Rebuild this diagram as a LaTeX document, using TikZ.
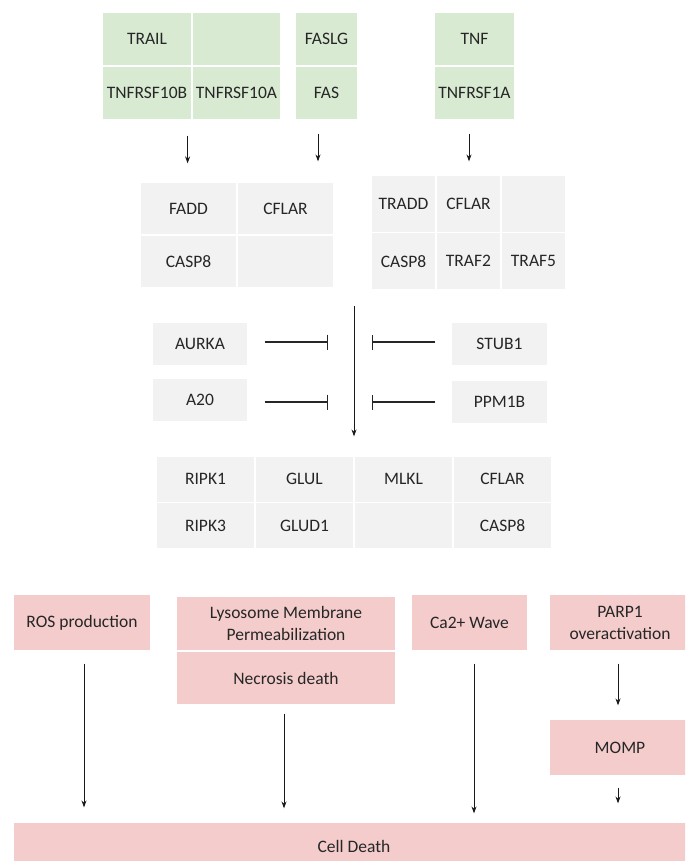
\documentclass[tikz,border=0pt]{standalone}
\usepackage{fontspec}
\setmainfont{Carlito}
\usetikzlibrary{arrows.meta}
\definecolor{gcol}{HTML}{D9EAD3}
\definecolor{grcol}{HTML}{F2F2F2}
\definecolor{pcol}{HTML}{F4CCCC}
\definecolor{tcol}{HTML}{262626}
\begin{document}
\begin{tikzpicture}[x=1pt,y=-1pt,
  cell/.style={draw=white, line width=1.2pt, inner sep=0pt, text=tcol,
    font=\fontsize{17.5}{22}\selectfont, align=center},
  gcell/.style={cell, fill=gcol},
  ycell/.style={cell, fill=grcol},
  pcell/.style={cell, fill=pcol},
  arr/.style={-{Stealth[length=7pt,width=5pt]}, line width=1pt, draw=black!90},
  inh/.style={-{Bar[width=15pt, line width=1.3pt]}, line width=1.1pt, draw=black!85}]
\useasboundingbox (0,0) rectangle (685,861);
\clip (0,0) rectangle (685,861);
\fill[white] (0,0) rectangle (685,861);

% green receptor blocks
\node[gcell, minimum width=90pt, minimum height=54pt] (trail) at (147,39) {TRAIL};
\node[gcell, minimum width=89pt, minimum height=54pt] (tgap) at (236.5,39) {};
\node[gcell, minimum width=90pt, minimum height=54pt] (r10b) at (147,93) {TNFRSF10B};
\node[gcell, minimum width=89pt, minimum height=54pt] (r10a) at (236.5,93) {TNFRSF10A};
\node[gcell, minimum width=63pt, minimum height=54pt] (faslg) at (326.5,39) {FASLG};
\node[gcell, minimum width=63pt, minimum height=54pt] (fas) at (326.5,93) {FAS};
\node[gcell, minimum width=81pt, minimum height=54pt] (tnf) at (474.5,39) {TNF};
\node[gcell, minimum width=81pt, minimum height=54pt] (r1a) at (474.5,93) {TNFRSF1A};

% gray complex 1
\node[ycell, minimum width=97pt, minimum height=53pt] (fadd) at (188.5,208.5) {FADD};
\node[ycell, minimum width=97pt, minimum height=53pt] (cflara) at (285.5,208.5) {CFLAR};
\node[ycell, minimum width=97pt, minimum height=53pt] (casp8a) at (188.5,261.5) {CASP8};
\node[ycell, minimum width=97pt, minimum height=53pt] (gapa) at (285.5,261.5) {};

% gray complex 2
\node[ycell, minimum width=65pt, minimum height=57.5pt] (tradd) at (403.5,203.75) {TRADD};
\node[ycell, minimum width=65pt, minimum height=57.5pt] (cflarb) at (468.5,203.75) {CFLAR};
\node[ycell, minimum width=65pt, minimum height=57.5pt] (gapb) at (533.5,203.75) {};
\node[ycell, minimum width=65pt, minimum height=57.5pt] (casp8b) at (403.5,261.25) {CASP8};
\node[ycell, minimum width=65pt, minimum height=57.5pt] (traf2) at (468.5,261.25) {TRAF2};
\node[ycell, minimum width=65pt, minimum height=57.5pt] (traf5) at (533.5,261.25) {TRAF5};

% inhibitors
\node[ycell, minimum width=96pt, minimum height=44pt] (aurka) at (200,344) {AURKA};
\node[ycell, minimum width=96pt, minimum height=44pt] (a20) at (200,400) {A20};
\node[ycell, minimum width=97pt, minimum height=44pt] (stub1) at (499.5,344) {STUB1};
\node[ycell, minimum width=97pt, minimum height=44pt] (ppm1b) at (499.5,402) {PPM1B};

% necroptosis complex
\node[ycell, minimum width=99pt, minimum height=46.5pt] (ripk1) at (205.5,479.25) {RIPK1};
\node[ycell, minimum width=99pt, minimum height=46.5pt] (glul) at (304.5,479.25) {GLUL};
\node[ycell, minimum width=99pt, minimum height=46.5pt] (mlkl) at (403.5,479.25) {MLKL};
\node[ycell, minimum width=99pt, minimum height=46.5pt] (cflarc) at (502.5,479.25) {CFLAR};
\node[ycell, minimum width=99pt, minimum height=46.5pt] (ripk3) at (205.5,525.75) {RIPK3};
\node[ycell, minimum width=99pt, minimum height=46.5pt] (glud1) at (304.5,525.75) {GLUD1};
\node[ycell, minimum width=99pt, minimum height=46.5pt] (gapc) at (403.5,525.75) {};
\node[ycell, minimum width=99pt, minimum height=46.5pt] (casp8c) at (502.5,525.75) {CASP8};

% pink outcome boxes
\node[pcell, minimum width=138pt, minimum height=57pt] (ros) at (82,622.5) {ROS production};
\node[pcell, minimum width=220pt, minimum height=55pt] (lmp) at (286,623.5) {Lysosome Membrane\\Permeabilization};
\node[pcell, minimum width=220pt, minimum height=54pt] (necro) at (286,678) {Necrosis death};
\node[pcell, minimum width=117pt, minimum height=57pt] (ca) at (469.5,622.5) {Ca2+ Wave};
\node[pcell, minimum width=142pt, minimum height=57pt] (parp) at (620,622.5) {PARP1\\overactivation};
\node[pcell, minimum width=142pt, minimum height=57pt] (momp) at (620,747.5) {MOMP};
\node[pcell, minimum width=682pt, minimum height=48pt] (death) at (354,846) {Cell Death};

% arrows from receptors
\draw[arr, shorten <=15pt, shorten >=18pt] ([xshift=-5pt]r10b.south east) -- ([xshift=-5pt]r10b.south east |- fadd.north);
\draw[arr, shorten <=13pt, shorten >=20pt] ([xshift=-8.5pt]fas.south) -- ([xshift=-8.5pt]fas.south |- cflara.north);
\draw[arr, shorten <=13pt, shorten >=13pt] ([xshift=-5.5pt]r1a.south) -- ([xshift=-5.5pt]r1a.south |- cflarb.north);

% central arrow
\coordinate (vtop) at (354,306);
\draw[arr, shorten >=19pt] (vtop) -- (vtop |- glul.north);

% inhibition bars
\coordinate (ia) at (328,342);
\coordinate (ib) at (328,402);
\coordinate (ic) at (372,342);
\coordinate (id) at (372,402);
\draw[inh, shorten <=16pt] (aurka.east |- ia) -- (ia);
\draw[inh, shorten <=16pt] (a20.east |- ib) -- (ib);
\draw[inh, shorten <=15pt] (stub1.west |- ic) -- (ic);
\draw[inh, shorten <=15pt] (ppm1b.west |- id) -- (id);

% arrows to cell death
\draw[arr, shorten <=12pt, shorten >=14pt] ([xshift=2pt]ros.south) -- ([xshift=2pt]ros.south |- death.north);
\draw[arr, shorten <=8pt, shorten >=13pt] ([xshift=-2pt]necro.south) -- ([xshift=-2pt]necro.south |- death.north);
\draw[arr, shorten <=12pt, shorten >=8pt] ([xshift=4.5pt]ca.south) -- ([xshift=4.5pt]ca.south |- death.north);
\draw[arr, shorten <=12pt, shorten >=13pt] ([xshift=-2pt]parp.south) -- ([xshift=-2pt]momp.north);
\draw[arr, shorten <=11pt, shorten >=18pt] ([xshift=-2pt]momp.south) -- ([xshift=-2pt]momp.south |- death.north);
\end{tikzpicture}
\end{document}
